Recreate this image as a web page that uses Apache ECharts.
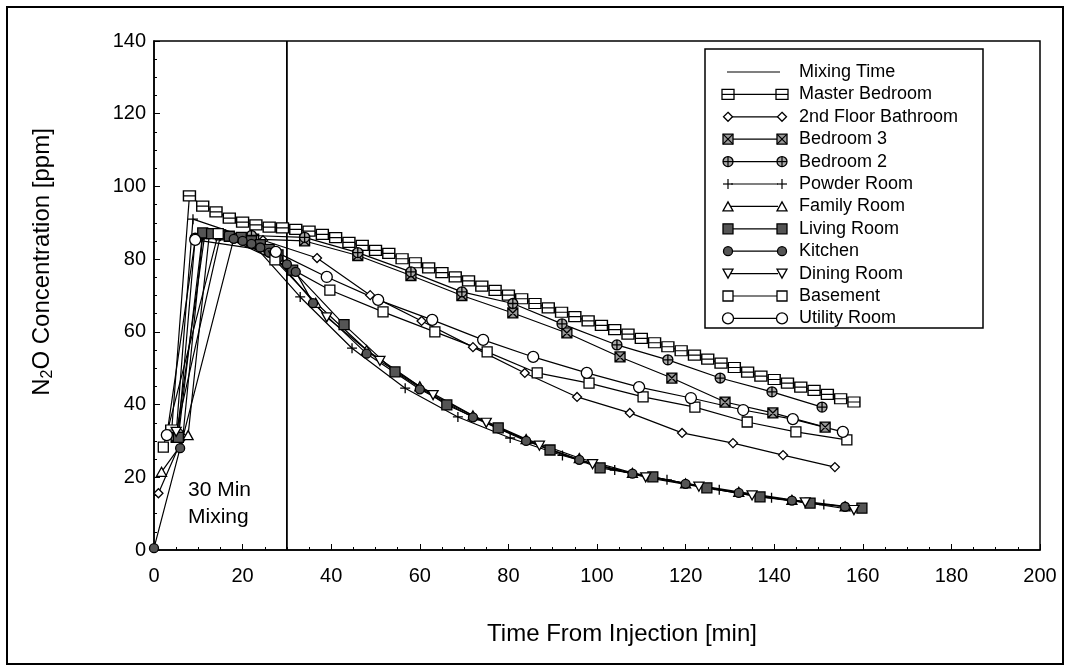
<!DOCTYPE html>
<html>
<head>
<meta charset="utf-8">
<script src="https://cdn.jsdelivr.net/npm/echarts@6/dist/echarts.min.js"></script>
<style>
html,body{margin:0;padding:0;background:#fff;}
#chart{width:1070px;height:671px;}
</style>
</head>
<body>
<div id="chart"></div>
<script>
// ---------------- DATA ----------------
const xTicks = [0, 20, 40, 60, 80, 100, 120, 140, 160, 180, 200];
const yTicks = [0, 20, 40, 60, 80, 100, 120, 140];
const mixingTime = 30;

const masterBedroom = [[4,33],[8,97.4],[11,94.6],[14,93.0],[17,91.3],[20,90.2],[23,89.4],[26,88.8],[29,88.6],[32,88.2],[35,87.7],[38,86.8],[41,85.9],[44,84.6],[47,83.8],[50,82.4],[53,81.6],[56,80.1],[59,79.0],[62,77.6],[65,76.3],[68,75.1],[71,74.0],[74,72.6],[77,71.4],[80,70.1],[83,69.1],[86,67.8],[89,66.6],[92,65.4],[95,64.2],[98,63.0],[101,61.8],[104,60.6],[107,59.4],[110,58.2],[113,57.0],[116,55.9],[119,54.8],[122,53.6],[125,52.5],[128,51.4],[131,50.2],[134,48.9],[137,47.8],[140,46.9],[143,45.9],[146,44.8],[149,43.9],[152,42.8],[155,41.6],[158,40.7]];
const bathroom2nd = [[1,15.6],[6.5,31],[11,86.5],[24.6,85.2],[36.8,80.3],[48.8,70.1],[60.4,63],[72,55.8],[83.7,48.7],[95.5,42.1],[107.4,37.7],[119.2,32.2],[130.7,29.4],[142,26.1],[153.7,22.8]];
const bedroom3 = [[5,31],[11.5,87],[22.5,85.5],[34,85],[46,81],[58,75.5],[69.5,70],[81,65.2],[93.2,59.7],[105.2,53.1],[116.9,47.3],[128.9,40.7],[139.7,37.7],[151.5,33.8]];
const bedroom2 = [[5.5,32],[9.3,85.8],[22,86.5],[34,86],[46,81.8],[58,76.5],[69.5,71],[81,67.8],[92.1,62.2],[104.5,56.4],[116,52.3],[127.8,47.3],[139.5,43.5],[150.8,39.3]];
const powderRoom = [[5,32],[8.8,91],[21,86],[33,69.6],[44.7,55.5],[56.7,44.5],[68.6,36.6],[80.4,30.8],[92.2,26],[104,22],[115.8,19.3],[127.6,16.6],[139.4,14.4],[151.2,12.5]];
const familyRoom = [[1.7,21.5],[7.7,31.6],[12.5,87],[24,84],[36.5,68],[48,55],[60,45],[72,37],[84,30.5],[96,25.3],[108,21.2],[120,18.3],[132,16],[144,13.8],[156,12]];
const livingRoom = [[5.5,31],[11,87.2],[13,87],[15,86.7],[17,86.3],[19.7,86],[22,85],[24,84],[26,82.7],[28,81.2],[31.3,77],[42.9,62],[54.4,49],[66.1,39.9],[77.7,33.6],[89.4,27.5],[100.7,22.6],[112.6,20.1],[124.8,17.1],[136.8,14.6],[148.1,12.9],[159.8,11.5]];
const kitchen = [[0,0.5],[5.9,28],[18,85.6],[20,85],[22,84.2],[24,83.2],[26,81.8],[28,80.3],[30,78.6],[32,76.5],[35.9,67.9],[48,54],[60,44.2],[72,36.5],[84,30],[96,24.8],[108,21],[120,18.2],[132,15.7],[144,13.6],[156,11.9]];
const diningRoom = [[5,32.5],[15,86.5],[27,81],[39,64],[51,52],[63,42.6],[75,35],[87,28.7],[99,23.6],[111,20],[123,17.4],[135,15],[147,13.1],[158,11]];
const basement = [[2.1,28.3],[14.5,87],[27.3,79.8],[39.7,71.5],[51.7,65.5],[63.4,60],[75.2,54.5],[86.5,48.7],[98.2,45.9],[110.4,42.1],[122.1,39.3],[133.9,35.2],[144.9,32.5],[156.4,30.3]];
const utilityRoom = [[2.9,31.6],[9.3,85.3],[27.5,82],[39,75.1],[50.6,68.8],[62.8,63.3],[74.3,57.8],[85.6,53.1],[97.7,48.7],[109.5,44.8],[121.2,41.8],[133,38.5],[144.2,36],[155.5,32.5]];

const seriesNames = ['Master Bedroom','2nd Floor Bathroom','Bedroom 3','Bedroom 2','Powder Room','Family Room','Living Room','Kitchen','Dining Room','Basement','Utility Room'];
const seriesData = [masterBedroom, bathroom2nd, bedroom3, bedroom2, powderRoom, familyRoom, livingRoom, kitchen, diningRoom, basement, utilityRoom];

// ---------------- STYLES ----------------
const CIRC = 'M0,5A5,5,0,1,0,10,5A5,5,0,1,0,0,5Z';
const markerStyles = [
  {kind:'rectBar', d:'M0,0H10V9H0ZM0,4.5H10', size:[12,10], fill:'#fff'},
  {kind:'diamond', d:'M5,0L10,5L5,10L0,5Z', size:[9,9], fill:'#fff'},
  {kind:'rectX', d:'M0,0H10V10H0ZM0,0L10,10M10,0L0,10', size:[10,10], fill:'#999'},
  {kind:'circPlus', d:CIRC + 'M0,5H10M5,0V10', size:[10,10], fill:'#aaa'},
  {kind:'plus', d:'M0,5H10M5,0V10', size:[10,10], fill:'rgba(0,0,0,0)'},
  {kind:'tri', d:'M5,0L10,9H0Z', size:[10,9], fill:'#fff'},
  {kind:'rect', d:'M0,0H10V10H0Z', size:[10,10], fill:'#555'},
  {kind:'circ', d:CIRC, size:[9,9], fill:'#555'},
  {kind:'triDown', d:'M0,0H10L5,9Z', size:[10,9], fill:'#fff'},
  {kind:'rect', d:'M0,0H10V10H0Z', size:[10,10], fill:'#fff'},
  {kind:'circ', d:CIRC, size:[11,11], fill:'#fff'}
];

const FONT = 'Liberation Sans, Arial, Helvetica, sans-serif';

const series = [{
  name: 'Mixing Time',
  type: 'line',
  data: [[mixingTime, yTicks[0]], [mixingTime, yTicks[yTicks.length - 1]]],
  symbol: 'none',
  lineStyle: {color: '#000', width: 1.8},
  z: 1,
  silent: true
}];
seriesNames.forEach((n, i) => {
  const m = markerStyles[i];
  series.push({
    name: n,
    type: 'line',
    data: seriesData[i],
    symbol: 'path://' + m.d,
    symbolSize: m.size,
    showAllSymbol: true,
    lineStyle: {color: '#000', width: 1.2},
    itemStyle: {color: m.fill, borderColor: '#000', borderWidth: 1.3},
    emphasis: {disabled: true},
    z: 2,
    silent: true
  });
});

// ---------------- LEGEND (graphic) ----------------
function markerEls(m, cx, cy) {
  const w = m.size[0], h = m.size[1];
  const x0 = cx - w / 2, y0 = cy - h / 2;
  const st = {fill: m.fill, stroke: '#000', lineWidth: 1.3};
  const ln = (a, b, c, d) => ({type:'line', shape:{x1:a, y1:b, x2:c, y2:d}, style:{stroke:'#000', lineWidth:1.2}, z:12});
  const els = [];
  switch (m.kind) {
    case 'rectBar':
      els.push({type:'rect', shape:{x:x0, y:y0, width:w, height:h}, style:st, z:12});
      els.push(ln(x0, cy, x0 + w, cy));
      break;
    case 'rect':
      els.push({type:'rect', shape:{x:x0, y:y0, width:w, height:h}, style:st, z:12});
      break;
    case 'rectX':
      els.push({type:'rect', shape:{x:x0, y:y0, width:w, height:h}, style:st, z:12});
      els.push(ln(x0, y0, x0 + w, y0 + h));
      els.push(ln(x0 + w, y0, x0, y0 + h));
      break;
    case 'diamond':
      els.push({type:'polygon', shape:{points:[[cx, y0],[x0 + w, cy],[cx, y0 + h],[x0, cy]]}, style:st, z:12});
      break;
    case 'circ':
      els.push({type:'circle', shape:{cx:cx, cy:cy, r:w / 2}, style:st, z:12});
      break;
    case 'circPlus':
      els.push({type:'circle', shape:{cx:cx, cy:cy, r:w / 2}, style:st, z:12});
      els.push(ln(x0, cy, x0 + w, cy));
      els.push(ln(cx, y0, cx, y0 + h));
      break;
    case 'plus':
      els.push(ln(x0, cy, x0 + w, cy));
      els.push(ln(cx, y0, cx, y0 + h));
      break;
    case 'tri':
      els.push({type:'polygon', shape:{points:[[cx, y0],[x0 + w, y0 + h],[x0, y0 + h]]}, style:st, z:12});
      break;
    case 'triDown':
      els.push({type:'polygon', shape:{points:[[x0, y0],[x0 + w, y0],[cx, y0 + h]]}, style:st, z:12});
      break;
  }
  return els;
}

const graphic = [];
graphic.push({type:'rect', shape:{x:7, y:7, width:1056, height:657}, style:{fill:'none', stroke:'#000', lineWidth:2}});
const lgX = 705, lgY = 49, lgW = 278, lgH = 279;
graphic.push({type:'rect', shape:{x:lgX, y:lgY, width:lgW, height:lgH}, style:{fill:'#fff', stroke:'#000', lineWidth:1.5}, z:10});
const rowY0 = 72, rowH = 22.4;
const allNames = ['Mixing Time'].concat(seriesNames);
allNames.forEach((n, i) => {
  const y = rowY0 + i * rowH;
  graphic.push({type:'text', x:799, y:y, style:{text:n, font:'18px ' + FONT, fill:'#000', verticalAlign:'middle', align:'left'}, z:11});
  if (i === 0) {
    graphic.push({type:'line', shape:{x1:727, y1:y, x2:780, y2:y}, style:{stroke:'#000', lineWidth:1.2}, z:11});
  } else {
    const m = markerStyles[i - 1];
    graphic.push({type:'line', shape:{x1:731, y1:y, x2:778, y2:y}, style:{stroke:'#000', lineWidth:1.2}, z:11});
    [728, 782].forEach(cx => { markerEls(m, cx, y).forEach(e => graphic.push(e)); });
  }
});
// y axis title
graphic.push({type:'text', x:42, y:262, rotation:Math.PI/2,
  style:{text:'{n|N}{s|2}{n|O Concentration [ppm]}', align:'center', verticalAlign:'middle', fill:'#000',
    rich:{n:{font:'24px ' + FONT, fill:'#000'}, s:{font:'16px ' + FONT, fill:'#000', padding:[12,0,0,0]}}}});
// x axis title
graphic.push({type:'text', x:622, y:634, style:{text:'Time From Injection [min]', font:'24px ' + FONT, fill:'#000', align:'center', verticalAlign:'middle'}});
// annotation
graphic.push({type:'text', x:188, y:477, style:{text:'30 Min\nMixing', font:'21px ' + FONT, lineHeight:27, fill:'#000', align:'left', verticalAlign:'top'}});

const option = {
  backgroundColor: '#fff',
  animation: false,
  grid: {left:154, top:41, width:886, height:509, show:true, borderColor:'#000', borderWidth:1.5, backgroundColor:'transparent'},
  xAxis: {
    type:'value', min:xTicks[0], max:xTicks[xTicks.length-1], interval:20,
    axisLine:{show:true, onZero:false, lineStyle:{color:'#000', width:1.5}},
    axisTick:{show:true, inside:true, length:6, lineStyle:{color:'#000'}},
    minorTick:{show:true, splitNumber:4, length:3, lineStyle:{color:'#000'}},
    splitLine:{show:false},
    axisLabel:{color:'#000', fontSize:20, fontFamily:FONT, margin:16}
  },
  yAxis: {
    type:'value', min:yTicks[0], max:yTicks[yTicks.length-1], interval:20,
    axisLine:{show:true, onZero:false, lineStyle:{color:'#000', width:1.5}},
    axisTick:{show:true, inside:true, length:6, lineStyle:{color:'#000'}},
    minorTick:{show:true, splitNumber:4, length:3, lineStyle:{color:'#000'}},
    splitLine:{show:false},
    axisLabel:{color:'#000', fontSize:20, fontFamily:FONT, margin:8}
  },
  graphic: graphic,
  series: series
};
const chart = echarts.init(document.getElementById('chart'), null, {renderer:'canvas'});
chart.setOption(option);
</script>
</body>
</html>
